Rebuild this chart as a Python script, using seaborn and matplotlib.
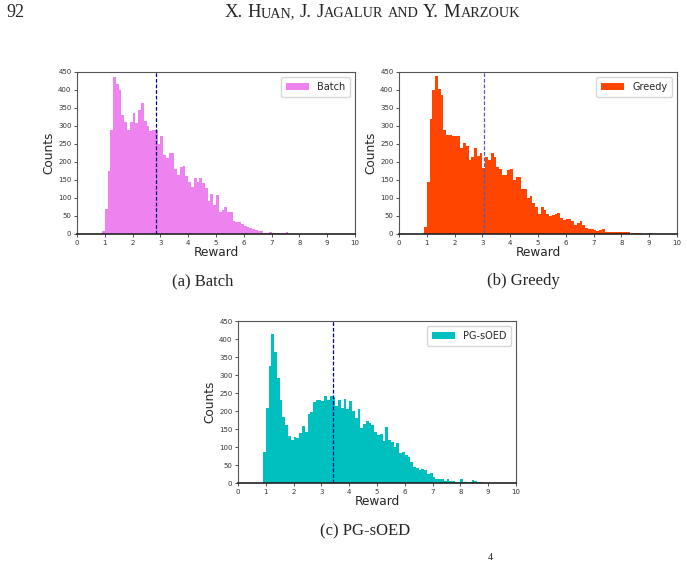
import numpy as np
import pandas as pd
import matplotlib
matplotlib.use("Agg")
import matplotlib.pyplot as plt
import seaborn as sns

# ------------------------------------------------------------
# Daten: Zählwerte pro Bin (Breite 0.1), beginnend bei Reward 0.9
# ------------------------------------------------------------
bin_start = 0.9
bin_width = 0.1

batch_counts = [8, 70, 175, 290, 435, 418, 400, 330, 310, 290,
                310, 335, 308, 345, 365, 315, 300, 285, 290, 290,
                250, 272, 220, 210, 225, 225, 180, 165, 185, 190,
                160, 145, 130, 155, 145, 155, 143, 127, 93, 110,
                80, 108, 62, 67, 75, 62, 61, 35, 34, 33,
                28, 22, 20, 18, 14, 10, 8, 7, 4, 3,
                6, 2, 2, 3, 2, 1, 5, 1, 0, 1]

greedy_counts = [20, 145, 320, 400, 440, 402, 385, 290, 275, 274,
                 272, 272, 272, 240, 252, 245, 205, 213, 240, 218,
                 225, 182, 215, 205, 225, 215, 185, 180, 165, 165,
                 178, 180, 150, 158, 158, 125, 125, 100, 105, 85,
                 75, 55, 75, 68, 55, 50, 52, 55, 58, 45,
                 38, 42, 42, 35, 25, 30, 35, 25, 18, 15,
                 15, 12, 8, 10, 15, 5, 5, 5, 5, 5,
                 5, 5, 5, 5, 1, 2, 4, 2, 1, 1,
                 1, 2, 1]

pg_counts = [85, 208, 325, 413, 363, 292, 230, 183, 160, 130,
             120, 128, 125, 140, 158, 143, 192, 197, 225, 230,
             230, 228, 242, 230, 242, 238, 215, 230, 208, 232,
             205, 228, 200, 180, 205, 153, 165, 173, 168, 160,
             142, 132, 135, 118, 155, 120, 115, 100, 110, 83,
             85, 78, 72, 58, 45, 42, 35, 38, 35, 25,
             27, 17, 12, 10, 10, 5, 10, 5, 5, 3,
             3, 10, 3, 2, 3, 7, 5, 2, 3, 1]

batch_mean = 2.85
greedy_mean = 3.07
pg_mean = 3.43

x_ticks = list(range(0, 11))
y_ticks = list(range(0, 451, 50))

page_number = "92"
running_head = "X. Huan, J. Jagalur and Y. Marzouk"


def to_frame(counts):
    centers = bin_start + bin_width * (np.arange(len(counts)) + 0.5)
    return pd.DataFrame({"reward": centers, "count": counts})


sns.set_theme(style="ticks")
plt.rcParams["font.family"] = ["DejaVu Sans"]

W, H = 687, 564
fig = plt.figure(figsize=(W / 100, H / 100), dpi=100)
serif = ["Liberation Serif", "DejaVu Serif"]


def panel(px_left, px_bottom, counts, color, label, mean, line_color):
    ax = fig.add_axes([px_left / W, (H - px_bottom) / H, 278 / W, 162 / H])
    df = to_frame(counts)
    sns.histplot(data=df, x="reward", weights="count",
                 bins=100, binrange=(0, 10),
                 color=color, alpha=1, linewidth=0, label=label, ax=ax)
    ax.axvline(mean, ls="--", color=line_color, lw=0.9, dashes=(3, 1.5))
    ax.set_xlim(0, 10)
    ax.set_ylim(0, 450)
    ax.set_xticks(x_ticks)
    ax.set_yticks(y_ticks)
    ax.tick_params(labelsize=5, length=2.5, width=0.6, pad=1.5, colors="#333333")
    for s in ax.spines.values():
        s.set_linewidth(0.8)
        s.set_color("#555555")
    ax.spines["bottom"].set_color("#222222")
    ax.spines["bottom"].set_linewidth(1.2)
    ax.set_xlabel("Reward", fontsize=8.7, labelpad=0)
    ax.set_ylabel("Counts", fontsize=8.7, labelpad=2)
    ax.legend(loc="upper right", fontsize=7, frameon=True, handlelength=2.4,
              borderpad=0.5, fancybox=True)
    return ax


panel(77, 234, batch_counts, "#EE82EE", "Batch", batch_mean, "navy")
panel(399, 234, greedy_counts, "#FF4500", "Greedy", greedy_mean, "#5a5ab0")
panel(238, 483, pg_counts, "#00BFBF", "PG-sOED", pg_mean, "navy")


# Kapitälchen für die Kopfzeile: Großbuchstaben groß, Kleinbuchstaben als kleine Versalien
def small_caps(text, x_center, y_base, big=13.5, small=10.3):
    renderer = fig.canvas.get_renderer()
    runs = []
    for wi, word in enumerate(text.split(" ")):
        if wi > 0:
            runs.append((" ", big))
        cur, cur_small = "", None
        for ch in word:
            if ch.isalpha() or cur_small is None:
                is_small = ch.islower()
            else:
                is_small = cur_small  # Satzzeichen bleiben im laufenden Block
            if cur and is_small != cur_small:
                runs.append((cur, small if cur_small else big))
                cur = ""
            cur += ch.upper()
            cur_small = is_small
        if cur:
            runs.append((cur, small if cur_small else big))
    widths = []
    for s, fs in runs:
        if s == " ":
            widths.append(0.25 * fs * 100 / 72)
            continue
        t = fig.text(0, 0, s, fontsize=fs, family=serif)
        widths.append(t.get_window_extent(renderer).width)
        t.remove()
    x = x_center - sum(widths) / 2
    for (s, fs), w in zip(runs, widths):
        if s != " ":
            fig.text(x / W, 1 - y_base / H, s, fontsize=fs, family=serif,
                     va="baseline", ha="left")
        x += w


fig.text(6 / W, 1 - 17 / H, page_number, fontsize=13, family=serif, va="baseline", ha="left")
small_caps(running_head, 372, 17)

fig.text(203 / W, 1 - 281 / H, "(a) Batch", fontsize=12, family=serif, ha="center", va="center")
fig.text(523 / W, 1 - 281 / H, "(b) Greedy", fontsize=12, family=serif, ha="center", va="center")
fig.text(365 / W, 1 - 531 / H, "(c) PG-sOED", fontsize=12, family=serif, ha="center", va="center")
fig.text(490 / W, 1 - 557 / H, "4", fontsize=7, family=serif, ha="center", va="center")

fig.savefig("out.png", dpi=100)
